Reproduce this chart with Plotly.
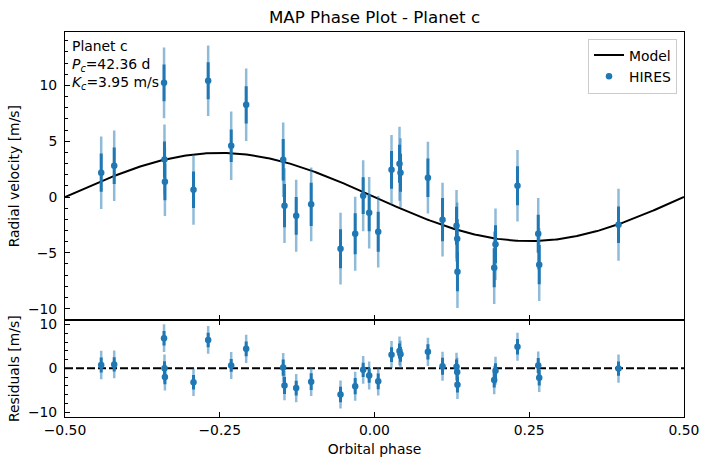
import numpy as np
import plotly.graph_objects as go

# ---- data ----
phase = [-0.4415, -0.4205, -0.3400, -0.3393, -0.3386, -0.2924, -0.2687, -0.2315,
         -0.2073, -0.1475, -0.1454, -0.1265, -0.1023, -0.0549, -0.0312, -0.0183,
         -0.0086, 0.0060, 0.0275, 0.0404, 0.0420, 0.0863, 0.1099, 0.1325,
         0.1336, 0.1340, 0.1955, 0.1934, 0.2310, 0.2645, 0.2661, 0.3942]
rv = [2.18, 2.80, 10.23, 3.37, 1.37, 0.65, 10.41, 4.59,
      8.26, 3.34, -0.78, -1.68, -0.66, -4.63, -3.29, 0.12,
      -1.41, -3.11, 2.44, 2.98, 2.17, 1.73, -2.03, -2.57,
      -3.74, -6.69, -4.24, -6.33, 1.01, -3.29, -6.06, -2.48]
err = [1.72, 1.64, 1.65, 1.60, 1.65, 1.64, 1.65, 1.46,
       1.67, 1.86, 1.94, 1.69, 1.93, 1.75, 1.84, 1.64,
       1.66, 1.79, 1.69, 1.70, 1.70, 1.72, 1.94, 1.70,
       1.75, 1.75, 1.70, 1.75, 1.75, 1.70, 1.75, 1.64]
err_jit = [3.25, 3.16, 3.17, 3.13, 3.07, 3.13, 3.16, 3.07,
           3.25, 3.34, 3.35, 3.22, 3.30, 3.21, 3.31, 3.18,
           3.21, 3.21, 3.12, 3.31, 3.10, 3.21, 3.31, 3.20,
           3.25, 3.25, 3.20, 3.25, 3.21, 3.20, 3.25, 3.22]
K_c = 3.95
P_c = 42.36
x_ticks = [-0.5, -0.25, 0.0, 0.25, 0.5]

# model curve (circular orbit) and residuals
model_phase = np.linspace(-0.5, 0.5, 400)
model_rv = -K_c * np.sin(2 * np.pi * model_phase)
resid = [v - (-K_c * np.sin(2 * np.pi * p)) for p, v in zip(phase, rv)]

BLUE = "#1f77b4"
LIGHT = "rgba(31,119,180,0.5)"
FONT = "DejaVu Sans"

fig = go.Figure()

# top panel
fig.add_trace(go.Scatter(x=model_phase, y=model_rv, mode="lines",
                         line=dict(color="black", width=2), name="Model",
                         xaxis="x", yaxis="y"))
fig.add_trace(go.Scatter(x=phase, y=rv, mode="markers", marker=dict(size=0.1, color=LIGHT),
                         error_y=dict(type="data", array=err_jit, color=LIGHT, thickness=2.5, width=0),
                         showlegend=False, hoverinfo="skip", xaxis="x", yaxis="y"))
fig.add_trace(go.Scatter(x=phase, y=rv, mode="markers", marker=dict(size=6.5, color=BLUE),
                         error_y=dict(type="data", array=err, color=BLUE, thickness=3, width=0),
                         name="HIRES", xaxis="x", yaxis="y"))

# residual panel
fig.add_trace(go.Scatter(x=[-0.5, 0.5], y=[0, 0], mode="lines",
                         line=dict(color="black", width=2, dash="8px,3px"),
                         showlegend=False, xaxis="x2", yaxis="y2"))
fig.add_trace(go.Scatter(x=phase, y=resid, mode="markers", marker=dict(size=0.1, color=LIGHT),
                         error_y=dict(type="data", array=err_jit, color=LIGHT, thickness=2.5, width=0),
                         showlegend=False, hoverinfo="skip", xaxis="x2", yaxis="y2"))
fig.add_trace(go.Scatter(x=phase, y=resid, mode="markers", marker=dict(size=6.5, color=BLUE),
                         error_y=dict(type="data", array=err, color=BLUE, thickness=3, width=0),
                         showlegend=False, xaxis="x2", yaxis="y2"))

split = 0.251
axcommon = dict(showgrid=False, zeroline=False, showline=True, linecolor="black", linewidth=1,
                ticks="inside", ticklen=5, tickwidth=1, tickcolor="black", automargin=False,
                tickfont=dict(family=FONT, size=13.9, color="black"))

fig.update_layout(
    width=708, height=465,
    margin=dict(l=65, r=24, t=31.5, b=48.3),
    paper_bgcolor="white", plot_bgcolor="white",
    font=dict(family=FONT, size=13.9, color="black"),
    title=dict(text="MAP Phase Plot - Planet c", x=0.5, xref="paper", xanchor="center",
               y=1 - 17.5 / 465, yref="container", yanchor="middle",
               font=dict(family=FONT, size=16.7, color="black")),
    xaxis=dict(domain=[0, 1], anchor="y", range=[-0.5, 0.5], tickvals=x_ticks,
               showticklabels=False, mirror=True, **axcommon),
    yaxis=dict(domain=[split, 1], anchor="x", range=[-11.05, 14.78], dtick=5, mirror=True,
               ticklabelstandoff=4,
               minor=dict(dtick=1, ticks="inside", ticklen=3, tickcolor="black"),
               title=dict(text="Radial velocity [m/s]", standoff=5,
                          font=dict(family=FONT, size=13.9)),
               **axcommon),
    xaxis2=dict(domain=[0, 1], anchor="y2", range=[-0.5, 0.5], tickvals=x_ticks,
                tickformat=".2f", mirror="ticks", matches="x",
                title=dict(text="Orbital phase", standoff=7, font=dict(family=FONT, size=13.9)),
                **axcommon),
    yaxis2=dict(domain=[0, split], anchor="x2", range=[-11.1, 10.96], dtick=10, mirror=True,
                ticklabelstandoff=4,
                minor=dict(dtick=2, ticks="inside", ticklen=3, tickcolor="black"),
                title=dict(text="Residuals [m/s]", standoff=5, font=dict(family=FONT, size=13.9)),
                **axcommon),
    legend=dict(x=0.9887, y=0.983, xanchor="right", yanchor="top",
                bgcolor="rgba(255,255,255,0.8)", bordercolor="#cccccc", borderwidth=1,
                font=dict(family=FONT, size=13.9, color="black"), traceorder="normal"),
    showlegend=True,
)

ann_font = dict(family=FONT, size=13.9, color="black")
fig.add_annotation(text="Planet c", xref="x domain", yref="y domain", x=0.008, y=0.951,
                   xanchor="left", yanchor="middle", showarrow=False, font=ann_font)
fig.add_annotation(text="<i>P</i><sub><i>c</i></sub>=%.2f d" % P_c, xref="x domain", yref="y domain",
                   x=0.008, y=0.886, xanchor="left", yanchor="middle", showarrow=False, font=ann_font)
fig.add_annotation(text="<i>K</i><sub><i>c</i></sub>=%.2f m/s" % K_c, xref="x domain", yref="y domain",
                   x=0.008, y=0.824, xanchor="left", yanchor="middle", showarrow=False, font=ann_font)

fig.write_html("out.html")
